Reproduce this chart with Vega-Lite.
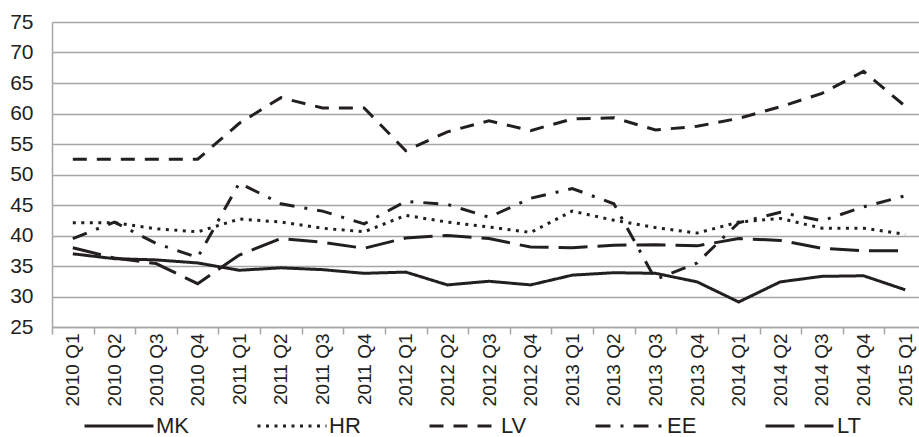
{
  "$schema": "https://vega.github.io/schema/vega-lite/v6.json",
  "autosize": {"type": "none"},
  "width": 866,
  "height": 305,
  "padding": {"left": 52, "top": 22, "right": 1, "bottom": 110},
  "background": "white",
  "config": {
    "view": {"stroke": null},
    "font": "Liberation Sans",
    "axis": {"labelColor": "#231f20", "labelFont": "Liberation Sans"}
  },
  "datasets": {
    "d": [
      {"q":"2010 Q1","c":"MK","v":37.0},{"q":"2010 Q2","c":"MK","v":36.2},{"q":"2010 Q3","c":"MK","v":36.0},{"q":"2010 Q4","c":"MK","v":35.5},{"q":"2011 Q1","c":"MK","v":34.3},{"q":"2011 Q2","c":"MK","v":34.7},{"q":"2011 Q3","c":"MK","v":34.4},{"q":"2011 Q4","c":"MK","v":33.8},{"q":"2012 Q1","c":"MK","v":34.0},{"q":"2012 Q2","c":"MK","v":31.9},{"q":"2012 Q3","c":"MK","v":32.5},{"q":"2012 Q4","c":"MK","v":31.9},{"q":"2013 Q1","c":"MK","v":33.5},{"q":"2013 Q2","c":"MK","v":33.9},{"q":"2013 Q3","c":"MK","v":33.8},{"q":"2013 Q4","c":"MK","v":32.4},{"q":"2014 Q1","c":"MK","v":29.1},{"q":"2014 Q2","c":"MK","v":32.4},{"q":"2014 Q3","c":"MK","v":33.3},{"q":"2014 Q4","c":"MK","v":33.4},{"q":"2015 Q1","c":"MK","v":31.1},
      {"q":"2010 Q1","c":"HR","v":42.1},{"q":"2010 Q2","c":"HR","v":42.1},{"q":"2010 Q3","c":"HR","v":41.1},{"q":"2010 Q4","c":"HR","v":40.6},{"q":"2011 Q1","c":"HR","v":42.7},{"q":"2011 Q2","c":"HR","v":42.2},{"q":"2011 Q3","c":"HR","v":41.2},{"q":"2011 Q4","c":"HR","v":40.6},{"q":"2012 Q1","c":"HR","v":43.3},{"q":"2012 Q2","c":"HR","v":42.2},{"q":"2012 Q3","c":"HR","v":41.4},{"q":"2012 Q4","c":"HR","v":40.5},{"q":"2013 Q1","c":"HR","v":44.0},{"q":"2013 Q2","c":"HR","v":42.5},{"q":"2013 Q3","c":"HR","v":41.3},{"q":"2013 Q4","c":"HR","v":40.4},{"q":"2014 Q1","c":"HR","v":42.2},{"q":"2014 Q2","c":"HR","v":42.8},{"q":"2014 Q3","c":"HR","v":41.2},{"q":"2014 Q4","c":"HR","v":41.2},{"q":"2015 Q1","c":"HR","v":40.2},
      {"q":"2010 Q1","c":"LV","v":52.5},{"q":"2010 Q2","c":"LV","v":52.5},{"q":"2010 Q3","c":"LV","v":52.5},{"q":"2010 Q4","c":"LV","v":52.5},{"q":"2011 Q1","c":"LV","v":58.4},{"q":"2011 Q2","c":"LV","v":62.6},{"q":"2011 Q3","c":"LV","v":60.9},{"q":"2011 Q4","c":"LV","v":60.9},{"q":"2012 Q1","c":"LV","v":53.9},{"q":"2012 Q2","c":"LV","v":57.0},{"q":"2012 Q3","c":"LV","v":58.8},{"q":"2012 Q4","c":"LV","v":57.2},{"q":"2013 Q1","c":"LV","v":59.1},{"q":"2013 Q2","c":"LV","v":59.3},{"q":"2013 Q3","c":"LV","v":57.3},{"q":"2013 Q4","c":"LV","v":57.9},{"q":"2014 Q1","c":"LV","v":59.2},{"q":"2014 Q2","c":"LV","v":61.1},{"q":"2014 Q3","c":"LV","v":63.3},{"q":"2014 Q4","c":"LV","v":66.9},{"q":"2015 Q1","c":"LV","v":61.2},
      {"q":"2010 Q1","c":"EE","v":39.5},{"q":"2010 Q2","c":"EE","v":42.2},{"q":"2010 Q3","c":"EE","v":38.7},{"q":"2010 Q4","c":"EE","v":36.4},{"q":"2011 Q1","c":"EE","v":48.6},{"q":"2011 Q2","c":"EE","v":45.2},{"q":"2011 Q3","c":"EE","v":44.0},{"q":"2011 Q4","c":"EE","v":41.9},{"q":"2012 Q1","c":"EE","v":45.6},{"q":"2012 Q2","c":"EE","v":45.1},{"q":"2012 Q3","c":"EE","v":43.0},{"q":"2012 Q4","c":"EE","v":46.1},{"q":"2013 Q1","c":"EE","v":47.7},{"q":"2013 Q2","c":"EE","v":45.2},{"q":"2013 Q3","c":"EE","v":32.8},{"q":"2013 Q4","c":"EE","v":35.5},{"q":"2014 Q1","c":"EE","v":42.1},{"q":"2014 Q2","c":"EE","v":43.8},{"q":"2014 Q3","c":"EE","v":42.4},{"q":"2014 Q4","c":"EE","v":44.7},{"q":"2015 Q1","c":"EE","v":46.5},
      {"q":"2010 Q1","c":"LT","v":38.0},{"q":"2010 Q2","c":"LT","v":36.3},{"q":"2010 Q3","c":"LT","v":35.4},{"q":"2010 Q4","c":"LT","v":32.1},{"q":"2011 Q1","c":"LT","v":36.8},{"q":"2011 Q2","c":"LT","v":39.5},{"q":"2011 Q3","c":"LT","v":38.9},{"q":"2011 Q4","c":"LT","v":37.9},{"q":"2012 Q1","c":"LT","v":39.6},{"q":"2012 Q2","c":"LT","v":40.0},{"q":"2012 Q3","c":"LT","v":39.5},{"q":"2012 Q4","c":"LT","v":38.1},{"q":"2013 Q1","c":"LT","v":38.0},{"q":"2013 Q2","c":"LT","v":38.4},{"q":"2013 Q3","c":"LT","v":38.5},{"q":"2013 Q4","c":"LT","v":38.3},{"q":"2014 Q1","c":"LT","v":39.5},{"q":"2014 Q2","c":"LT","v":39.2},{"q":"2014 Q3","c":"LT","v":37.9},{"q":"2014 Q4","c":"LT","v":37.5},{"q":"2015 Q1","c":"LT","v":37.5}
    ]
  },
  "data": {"name": "d"},
  "mark": {"type": "line", "color": "#231f20", "strokeWidth": 3, "strokeCap": "butt", "strokeJoin": "miter"},
  "encoding": {
    "x": {
      "field": "q", "type": "ordinal", "sort": null,
      "scale": {"type": "band", "paddingInner": 0, "paddingOuter": 0, "range": [0, 874]},
      "axis": {
        "title": null, "labelAngle": -90, "tickBand": "extent",
        "tickSize": 7, "tickColor": "#a6a6a6", "tickWidth": 1.5,
        "domainColor": "#a6a6a6", "domainWidth": 1.5,
        "labelFontSize": 19, "labelPadding": -1, "grid": false
      }
    },
    "y": {
      "field": "v", "type": "quantitative",
      "scale": {"domain": [25, 75], "nice": false, "zero": false},
      "axis": {
        "title": null, "values": [25,30,35,40,45,50,55,60,65,70,75],
        "grid": true, "gridColor": "#a6a6a6", "gridWidth": 1.5,
        "ticks": false, "domainColor": "#a6a6a6", "domainWidth": 1.5,
        "labelFontSize": 21, "labelPadding": 19
      }
    },
    "strokeDash": {
      "field": "c", "type": "nominal",
      "scale": {"domain": ["MK","HR","LV","EE","LT"], "range": [[1,0],[3,5.5],[14,10],[15,10,3,10],[29,10]]},
      "legend": {
        "title": null, "orient": "none", "legendX": 31, "legendY": 368,
        "direction": "horizontal", "columns": 5, "columnPadding": 62,
        "symbolType": "stroke", "symbolSize": 4761, "symbolStrokeWidth": 3,
        "symbolStrokeColor": "#231f20", "labelOffset": 1,
        "labelFont": "Liberation Sans", "labelFontSize": 22, "labelColor": "#231f20"
      }
    }
  }
}
